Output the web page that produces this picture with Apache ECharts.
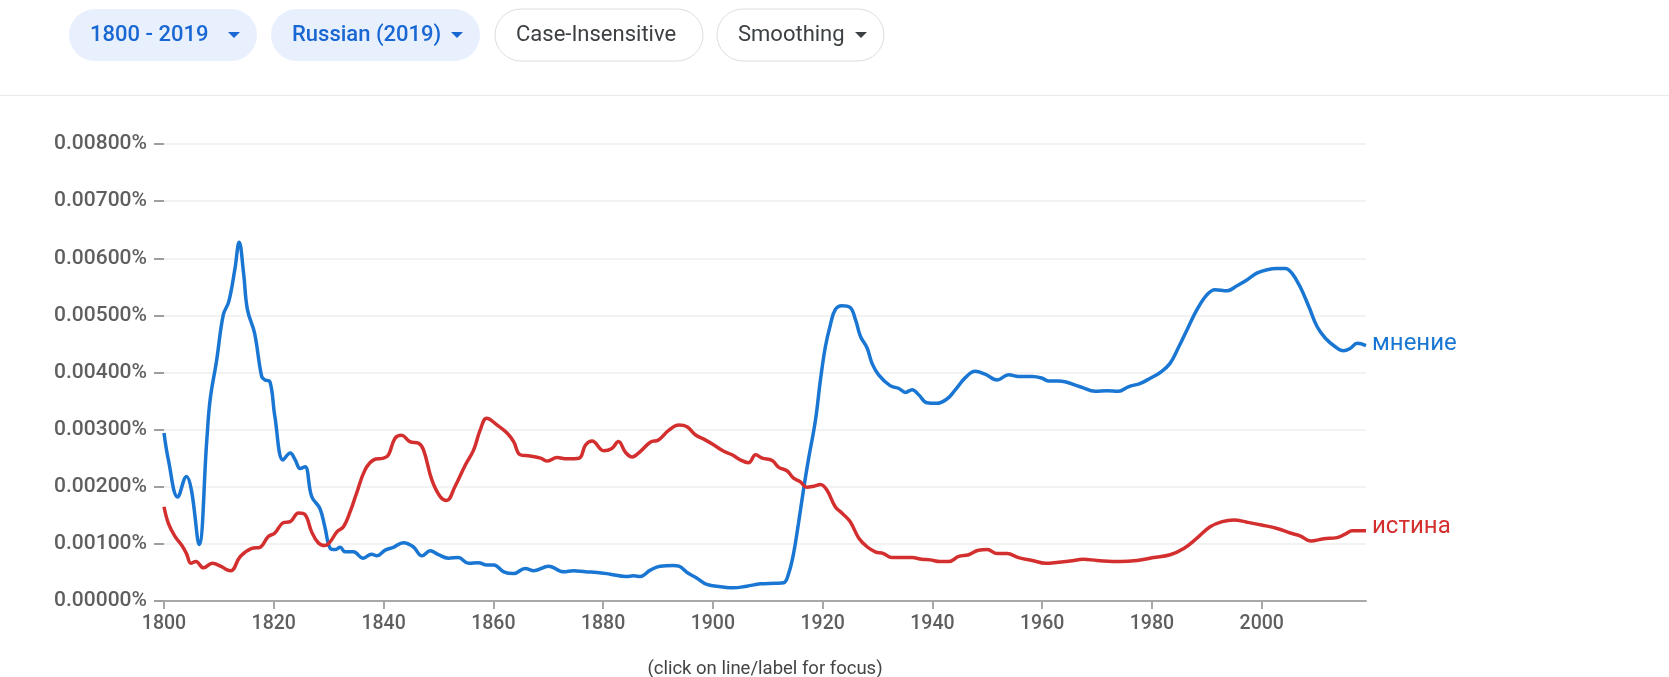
<!DOCTYPE html>
<html>
<head>
<meta charset="utf-8">
<script src="https://cdn.jsdelivr.net/npm/echarts@6/dist/echarts.min.js"></script>
<style>
  html, body { margin: 0; padding: 0; background: #fff; }
  #chart { width: 1669px; height: 677px; }
</style>
</head>
<body>
<div id="chart"></div>
<script>
// values, in percent
const mnenieYears = [1800, 1800.8, 1802.5, 1804.1, 1805, 1806.4, 1807.8, 1808.4, 1809.6, 1810.8, 1811.8, 1812.9, 1813.7, 1814.5, 1815.2, 1816.5, 1817.8, 1818.4, 1819.3, 1820.2, 1821.7, 1823, 1823.9, 1824.8, 1825.7, 1826.9, 1828.4, 1829.3, 1830.3, 1831.2, 1832.1, 1833, 1834.5, 1836.3, 1837.8, 1838.8, 1840.3, 1841.8, 1843.6, 1845.4, 1847, 1848.5, 1850, 1851.8, 1853.6, 1855.5, 1857.3, 1858.8, 1860.1, 1861.9, 1863.7, 1865.8, 1867.4, 1870.1, 1872.8, 1874.6, 1876.8, 1878.9, 1881.3, 1884.1, 1885.6, 1886.8, 1888.6, 1890.4, 1892.8, 1893.8, 1895.3, 1897.1, 1898.9, 1901.4, 1903.8, 1906.2, 1908.7, 1911.4, 1912.9, 1913.8, 1914.7, 1915.6, 1916.5, 1917.4, 1918.7, 1919.6, 1920.5, 1921.4, 1922.3, 1923.5, 1925, 1926, 1926.9, 1928.1, 1929, 1930.2, 1932.3, 1933.9, 1935.1, 1936.3, 1937.5, 1939, 1940.8, 1942.7, 1944.2, 1946, 1947.8, 1949.6, 1951.8, 1953.9, 1955.7, 1958.2, 1960, 1961.2, 1963, 1966.9, 1969.7, 1971.8, 1973.9, 1975.7, 1977.9, 1979.7, 1981.5, 1983.3, 1984.9, 1986.4, 1988.2, 1990, 1991.5, 1993.7, 1995.5, 1997.3, 1999.1, 2001, 2002.8, 2004.3, 2005.5, 2007, 2008.6, 2010.1, 2011.6, 2013.4, 2014.9, 2016.1, 2017.4, 2019]
const mnenieValues = [0.00294, 0.00247, 0.00182, 0.00218, 0.00194, 0.00099, 0.00282, 0.00352, 0.00422, 0.00501, 0.00524, 0.00580, 0.00628, 0.00574, 0.00510, 0.00469, 0.00393, 0.00387, 0.00384, 0.00323, 0.00247, 0.00259, 0.00247, 0.00232, 0.00235, 0.00183, 0.00162, 0.00130, 0.00092, 0.00090, 0.00094, 0.00086, 0.00086, 0.00075, 0.00082, 0.00079, 0.00089, 0.00094, 0.00102, 0.00095, 0.00079, 0.00088, 0.00081, 0.00075, 0.00076, 0.00066, 0.00067, 0.00063, 0.00063, 0.00051, 0.00048, 0.00057, 0.00053, 0.00061, 0.00051, 0.00053, 0.00051, 0.00050, 0.00047, 0.00043, 0.00044, 0.00043, 0.00054, 0.00061, 0.00062, 0.00061, 0.00050, 0.00040, 0.00029, 0.00025, 0.00023, 0.00026, 0.00030, 0.00031, 0.00032, 0.00048, 0.00083, 0.00136, 0.00194, 0.00247, 0.00317, 0.00387, 0.00445, 0.00483, 0.00510, 0.00517, 0.00514, 0.00492, 0.00463, 0.00443, 0.00416, 0.00396, 0.00377, 0.00372, 0.00365, 0.00370, 0.00361, 0.00347, 0.00346, 0.00354, 0.00370, 0.00391, 0.00402, 0.00397, 0.00387, 0.00396, 0.00393, 0.00393, 0.00390, 0.00385, 0.00385, 0.00375, 0.00367, 0.00368, 0.00367, 0.00375, 0.00381, 0.00390, 0.00400, 0.00416, 0.00445, 0.00475, 0.00510, 0.00536, 0.00545, 0.00543, 0.00552, 0.00562, 0.00574, 0.00580, 0.00582, 0.00582, 0.00574, 0.00550, 0.00515, 0.00480, 0.00460, 0.00445, 0.00438, 0.00442, 0.00451, 0.00447]

const istinaYears = [1800, 1800.8, 1802, 1803.2, 1804.1, 1804.9, 1805.8, 1807.2, 1808.8, 1810.5, 1811.4, 1812.2, 1813.9, 1816, 1817.5, 1819, 1820.2, 1821.7, 1823, 1824.5, 1825.7, 1826.9, 1828.1, 1829.3, 1830.3, 1831.5, 1832.7, 1833.9, 1835.1, 1836.6, 1838.2, 1840, 1840.9, 1842.1, 1843.3, 1844.8, 1846.4, 1847.3, 1848.8, 1850.3, 1851.5, 1853, 1854.9, 1856.4, 1857.6, 1858.8, 1860.7, 1862.5, 1863.7, 1864.9, 1866.7, 1868.6, 1869.9, 1871.6, 1873.4, 1875.6, 1876.8, 1878, 1880.1, 1881.6, 1882.8, 1884.1, 1885.3, 1886.8, 1888.6, 1890.1, 1892, 1893.8, 1895.3, 1896.8, 1898.6, 1900.2, 1902, 1903.5, 1905, 1906.5, 1907.8, 1909, 1910.8, 1912, 1913.5, 1914.7, 1915.9, 1917.1, 1918.4, 1919.6, 1920.8, 1922.3, 1923.5, 1925, 1926.6, 1928.1, 1929.6, 1931.1, 1932.6, 1934.5, 1936.3, 1938.1, 1939.6, 1941.4, 1943, 1944.8, 1946.6, 1948.4, 1950, 1951.8, 1953.6, 1955.7, 1958.2, 1960.6, 1963, 1965.1, 1967.5, 1970, 1974.2, 1977.3, 1980.3, 1983.3, 1985.8, 1988.2, 1990.6, 1992.8, 1994.9, 1997.3, 2000, 2002.8, 2005.2, 2007, 2008.9, 2011.3, 2013.7, 2015.2, 2016.5, 2019]
const istinaValues = [0.00165, 0.00136, 0.00113, 0.00098, 0.00083, 0.00066, 0.00069, 0.00058, 0.00066, 0.00060, 0.00055, 0.00053, 0.00078, 0.00092, 0.00094, 0.00113, 0.00119, 0.00137, 0.00139, 0.00154, 0.00151, 0.00121, 0.00102, 0.00097, 0.00104, 0.00121, 0.00130, 0.00156, 0.00189, 0.00229, 0.00247, 0.00250, 0.00256, 0.00285, 0.00290, 0.00279, 0.00276, 0.00264, 0.00212, 0.00183, 0.00176, 0.00200, 0.00238, 0.00264, 0.00299, 0.00320, 0.00308, 0.00294, 0.00279, 0.00256, 0.00254, 0.00250, 0.00245, 0.00251, 0.00249, 0.00250, 0.00273, 0.00280, 0.00263, 0.00267, 0.00279, 0.00260, 0.00252, 0.00262, 0.00278, 0.00282, 0.00299, 0.00308, 0.00305, 0.00291, 0.00282, 0.00273, 0.00262, 0.00256, 0.00247, 0.00242, 0.00256, 0.00250, 0.00246, 0.00234, 0.00228, 0.00215, 0.00209, 0.00199, 0.00201, 0.00204, 0.00194, 0.00165, 0.00154, 0.00139, 0.00110, 0.00095, 0.00086, 0.00083, 0.00076, 0.00076, 0.00076, 0.00073, 0.00072, 0.00069, 0.00069, 0.00078, 0.00081, 0.00089, 0.00090, 0.00083, 0.00083, 0.00076, 0.00071, 0.00066, 0.00068, 0.00070, 0.00073, 0.00071, 0.00069, 0.00071, 0.00076, 0.00081, 0.00092, 0.00110, 0.00130, 0.00139, 0.00142, 0.00138, 0.00133, 0.00127, 0.00119, 0.00114, 0.00105, 0.00109, 0.00111, 0.00117, 0.00123, 0.00123]

const yearTicks = [1800, 1820, 1840, 1860, 1880, 1900, 1920, 1940, 1960, 1980, 2000]
const pills = [
    { text: "1800 - 2019", x: 69, w: 188, active: true, arrow: true },
    { text: "Russian (2019)", x: 271, w: 209, active: true, arrow: true },
    { text: "Case-Insensitive", x: 495, w: 208, active: false, arrow: false },
    { text: "Smoothing", x: 717, w: 167, active: false, arrow: true }
]

const pair = (xs, ys) => xs.map((x, i) => [x, ys[i]])

const graphic = [
    { type: "rect", shape: { x: 0, y: 95, width: 1669, height: 1 }, style: { fill: "#e8eaed" } },
    {
        type: "text",
        style: {
            text: "(click on line/label for focus)", x: 765, y: 669, fill: "#444",
            fontSize: 18.5, fontFamily: "Roboto", align: "center", verticalAlign: "middle"
        }
    }
]
pills.forEach(p => {
    const color = p.active ? "#1967d2" : "#3c4043"
    graphic.push({
        type: "rect",
        shape: { x: p.x, y: 9, width: p.w, height: 52, r: 26 },
        style: p.active ? { fill: "#e8f0fe" } : { fill: "#fff", stroke: "#dadce0", lineWidth: 1 }
    })
    graphic.push({
        type: "text",
        style: {
            text: p.text, x: p.x + 21, y: 35, fill: color,
            fontSize: 22, fontFamily: "Roboto", fontWeight: p.active ? 500 : 400,
            align: "left", verticalAlign: "middle"
        }
    })
    if (p.arrow) {
        const ax = p.x + p.w - 23
        graphic.push({
            type: "polygon",
            shape: { points: [[ax - 6, 32], [ax + 6, 32], [ax, 38]] },
            style: { fill: color }
        })
    }
})

const myCharts = echarts.init(document.getElementById("chart"), null, { renderer: "canvas" })
myCharts.setOption({
    animation: false,
    grid: { left: 164, right: 303, top: 144, bottom: 76 },
    graphic: graphic,
    xAxis: {
        type: "value",
        min: 1800,
        max: 2019,
        interval: 20,
        axisLine: { lineStyle: { color: "#a8a8a8", width: 2 } },
        axisTick: { customValues: yearTicks, length: 8, lineStyle: { color: "#a8a8a8", width: 2 } },
        axisLabel: {
            customValues: yearTicks, margin: 13,
            color: "#5f5f5f", fontSize: 19.5, fontWeight: 500, fontFamily: "Roboto",
            formatter: v => String(v)
        },
        splitLine: { show: false }
    },
    yAxis: {
        type: "value",
        min: 0,
        max: 0.008,
        interval: 0.001,
        axisLine: { show: false },
        axisTick: { show: true, length: 10, lineStyle: { color: "#9e9e9e", width: 2 } },
        axisLabel: {
            margin: 17, color: "#5f5f5f", fontSize: 21, fontWeight: 500, fontFamily: "Roboto",
            formatter: v => v.toFixed(5) + "%"
        },
        splitLine: { lineStyle: { color: "#f2f2f2", width: 2 } }
    },
    series: [
        {
            name: "мнение",
            type: "line",
            data: pair(mnenieYears, mnenieValues),
            smooth: 0.4,
            showSymbol: false,
            lineStyle: { color: "#1976d2", width: 3.5 },
            itemStyle: { color: "#1976d2" },
            endLabel: {
                show: true, formatter: "{a}", color: "#1976d2",
                fontSize: 24, fontFamily: "Roboto", distance: 6, offset: [0, -2]
            }
        },
        {
            name: "истина",
            type: "line",
            data: pair(istinaYears, istinaValues),
            smooth: 0.4,
            showSymbol: false,
            lineStyle: { color: "#d32f2f", width: 3.5 },
            itemStyle: { color: "#d32f2f" },
            endLabel: {
                show: true, formatter: "{a}", color: "#d32f2f",
                fontSize: 24, fontFamily: "Roboto", distance: 6, offset: [0, -4]
            }
        }
    ]
})
</script>
</body>
</html>
